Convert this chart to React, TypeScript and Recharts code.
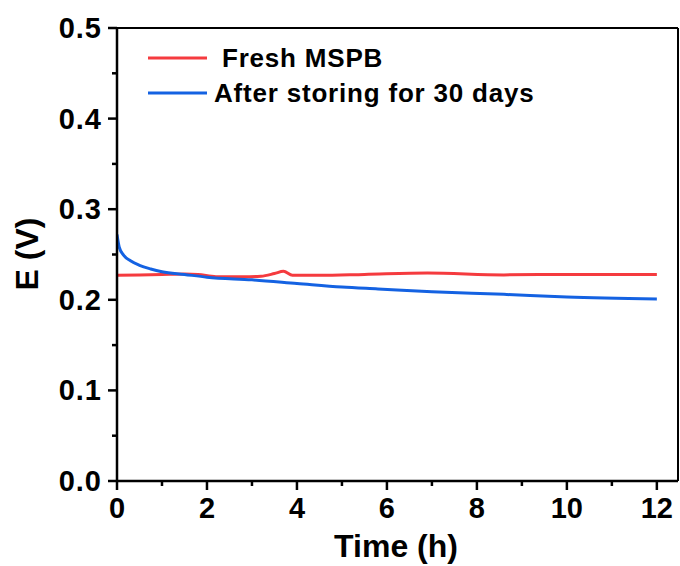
import { LineChart, Line, XAxis, YAxis, ReferenceLine } from "recharts";

const freshTime = [0, 0.5, 1, 1.5, 1.8, 2.2, 2.8, 3.2, 3.5, 3.7, 3.9, 4.5, 5.5, 6.9, 8.6, 10, 12];
const freshE = [0.227, 0.2275, 0.228, 0.2285, 0.228, 0.2255, 0.2255, 0.226, 0.229, 0.2315, 0.227, 0.227, 0.228, 0.2295, 0.2275, 0.228, 0.228];

const storedTime = [0, 0.05, 0.15, 0.3, 0.5, 0.75, 1, 1.5, 2, 3, 4, 5, 5.8, 7, 8.6, 10, 12];
const storedE = [0.272, 0.258, 0.249, 0.243, 0.238, 0.234, 0.231, 0.228, 0.225, 0.222, 0.218, 0.214, 0.212, 0.209, 0.206, 0.203, 0.201];

const xTicks = [0, 1, 2, 3, 4, 5, 6, 7, 8, 9, 10, 11, 12];
const yTicks = [0, 0.05, 0.1, 0.15, 0.2, 0.25, 0.3, 0.35, 0.4, 0.45, 0.5];
const X_MAX = 12.47;
const Y_MAX = 0.5;

const RED = "#f53b3f";
const BLUE = "#1462e2";
const FONT = "'Liberation Sans', Arial, sans-serif";

const freshData = freshTime.map((t, i) => ({ t, e: freshE[i] }));
const storedData = storedTime.map((t, i) => ({ t, e: storedE[i] }));

const XTick = (props: any) => {
  const { x, y, payload } = props;
  const major = payload.value % 2 === 0;
  return (
    <g>
      <line x1={x} y1={y} x2={x} y2={y + (major ? 9 : 5)} stroke="#000" strokeWidth={2.5} />
      {major && (
        <text x={x} y={y + 37} textAnchor="middle" fontSize={29} fontWeight="bold" fontFamily={FONT} fill="#000">
          {payload.value}
        </text>
      )}
    </g>
  );
};

const YTick = (props: any) => {
  const { x, y, payload } = props;
  const major = Math.round(payload.value * 100) % 10 === 0;
  return (
    <g>
      <line x1={x} y1={y} x2={x - (major ? 9 : 5)} y2={y} stroke="#000" strokeWidth={2.5} />
      {major && (
        <text x={x - 15} y={y + 10} textAnchor="end" fontSize={29} letterSpacing={1} fontWeight="bold" fontFamily={FONT} fill="#000">
          {payload.value.toFixed(1)}
        </text>
      )}
    </g>
  );
};

const LegendBox = () => (
  <svg width={400} height={70} style={{ position: "absolute", left: 140, top: 40 }}>
    <line x1={8} y1={18} x2={67} y2={18} stroke={RED} strokeWidth={3} />
    <text x={82} y={27} fontSize={26} letterSpacing={0.8} fontWeight="bold" fontFamily={FONT} fill="#000">Fresh MSPB</text>
    <line x1={8} y1={53} x2={67} y2={53} stroke={BLUE} strokeWidth={3} />
    <text x={74} y={62} fontSize={26} letterSpacing={0.8} fontWeight="bold" fontFamily={FONT} fill="#000">After storing for 30 days</text>
  </svg>
);

export default function App() {
  return (
    <div style={{ position: "absolute", left: 0, top: 0, width: 680, height: 566, background: "#fff" }}>
      <LineChart width={680} height={566} margin={{ top: 28, right: 2, left: 0, bottom: 0 }}>
        <XAxis
          xAxisId="b"
          dataKey="t"
          type="number"
          domain={[0, X_MAX]}
          ticks={xTicks}
          interval={0}
          allowDataOverflow
          height={85}
          tickSize={0}
          tickMargin={0}
          tickLine={false}
          axisLine={{ stroke: "#000", strokeWidth: 2.5 }}
          tick={<XTick />}
          label={{
            content: () => (
              <text x={396} y={557} textAnchor="middle" fontSize={32} fontWeight="bold" fontFamily={FONT} fill="#000">
                Time (h)
              </text>
            ),
          }}
        />
        <YAxis
          yAxisId="l"
          type="number"
          domain={[0, Y_MAX]}
          ticks={yTicks}
          interval={0}
          width={117}
          tickSize={0}
          tickMargin={0}
          tickLine={false}
          axisLine={{ stroke: "#000", strokeWidth: 2.5 }}
          tick={<YTick />}
          label={{
            content: () => (
              <text x={38} y={254} textAnchor="middle" transform="rotate(-90 38 254)" fontSize={32} fontWeight="bold" fontFamily={FONT} fill="#000">
                E (V)
              </text>
            ),
          }}
        />
        <ReferenceLine xAxisId="b" yAxisId="l" y={Y_MAX} stroke="#000" strokeWidth={2} />
        <ReferenceLine xAxisId="b" yAxisId="l" x={X_MAX} stroke="#000" strokeWidth={2} />
        <Line
          xAxisId="b"
          yAxisId="l"
          data={freshData}
          dataKey="e"
          name="Fresh MSPB"
          type="monotone"
          stroke={RED}
          strokeWidth={3}
          dot={false}
          isAnimationActive={false}
        />
        <Line
          xAxisId="b"
          yAxisId="l"
          data={storedData}
          dataKey="e"
          name="After storing for 30 days"
          type="monotone"
          stroke={BLUE}
          strokeWidth={3}
          dot={false}
          isAnimationActive={false}
        />
      </LineChart>
      <LegendBox />
    </div>
  );
}
